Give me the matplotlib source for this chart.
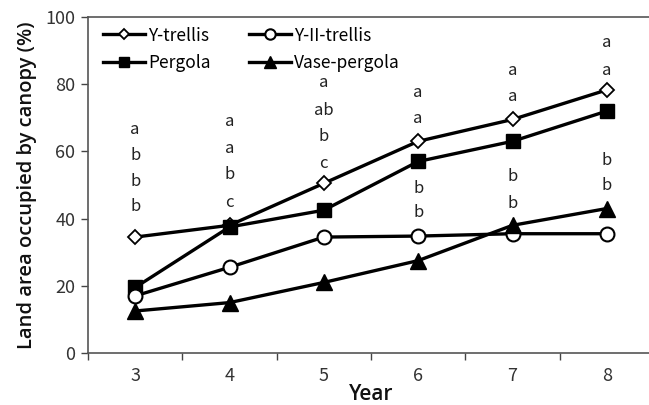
import matplotlib
matplotlib.use("Agg")
import matplotlib.pyplot as plt
from matplotlib.ticker import FixedLocator

plt.rcParams['font.family'] = ['Noto Sans CJK KR', 'DejaVu Sans']

years = [3, 4, 5, 6, 7, 8]
y_trellis = [34.5, 38.0, 50.5, 63.0, 69.5, 78.3]
y2_trellis = [17.0, 25.5, 34.5, 34.8, 35.5, 35.5]
pergola = [19.5, 37.5, 42.5, 57.0, 63.0, 72.0]
vase_pergola = [12.5, 15.0, 21.0, 27.5, 38.0, 43.0]

letters = [
    ["a", "b", "b", "b"],
    ["a", "a", "b", "c"],
    ["a", "ab", "b", "c"],
    ["a", "a", "b", "b"],
    ["a", "a", "b", "b"],
    ["a", "a", "b", "b"],
]
letter_y = [
    [66.4, 58.9, 50.9, 43.5],
    [68.8, 61.0, 53.0, 44.9],
    [80.4, 72.3, 64.3, 56.5],
    [77.4, 69.9, 49.1, 41.7],
    [84.2, 76.2, 52.4, 44.6],
    [92.3, 84.2, 57.4, 50.0],
]

fig = plt.figure(figsize=(6.49, 4.05), dpi=100)
ax = fig.add_axes([88/649, 1-353/405, 566/649, 336/405])

lw = 2.4
c = 'black'
l1, = ax.plot(years, y_trellis, color=c, lw=lw, marker='D', ms=7, mfc='white', mec=c, mew=1.3, label='Y-trellis')
l3, = ax.plot(years, pergola, color=c, lw=lw, marker='s', ms=10, mfc=c, mec=c, label='Pergola')
l2, = ax.plot(years, y2_trellis, color=c, lw=lw, marker='o', ms=10, mfc='white', mec=c, mew=1.5, label='Y-II-trellis')
l4, = ax.plot(years, vase_pergola, color=c, lw=lw, marker='^', ms=11, mfc=c, mec=c, label='Vase-pergola')

for x, labs, ys in zip(years, letters, letter_y):
    for lab, yy in zip(labs, ys):
        ax.text(x, yy, lab, ha='center', va='center', fontsize=12, color='#222222')

ax.set_xlim(2.5, 8.5)
ax.set_ylim(0, 100)
ax.set_yticks([0, 20, 40, 60, 80, 100])
ax.xaxis.set_major_locator(FixedLocator([2.5, 3.5, 4.5, 5.5, 6.5, 7.5, 8.5]))
ax.xaxis.set_major_formatter(plt.NullFormatter())
ax.xaxis.set_minor_locator(FixedLocator(years))
ax.set_xticklabels([str(y) for y in years], minor=True)
ax.tick_params(axis='x', which='major', direction='out', length=5, width=1, color='#444444')
ax.tick_params(axis='x', which='minor', length=0, labelsize=13, pad=10, labelcolor='#333333')
ax.tick_params(axis='y', direction='out', length=5, width=1, color='#444444', labelsize=13, labelcolor='#333333', pad=4)

for s in ['left', 'bottom', 'top']:
    ax.spines[s].set_color('#555555')
    ax.spines[s].set_linewidth(1.2)
ax.spines['right'].set_visible(False)

lab_font = dict(family=['Open Sans', 'DejaVu Sans'], fontweight='semibold', color='#111111')
ax.set_ylabel('Land area occupied by canopy (%)', fontsize=14.5, labelpad=6, **lab_font)
ax.set_xlabel('Year', fontsize=15, labelpad=-1, **lab_font)

leg = ax.legend(handles=[l1, l3, l2, l4], ncol=2, loc='upper left', bbox_to_anchor=(0.01, 1.0),
                frameon=False, fontsize=12.5, handlelength=2.4, handletextpad=0.2,
                columnspacing=2.2, labelspacing=0.55, borderaxespad=0.15, markerscale=0.75)

fig.savefig('out.png', dpi=100)
